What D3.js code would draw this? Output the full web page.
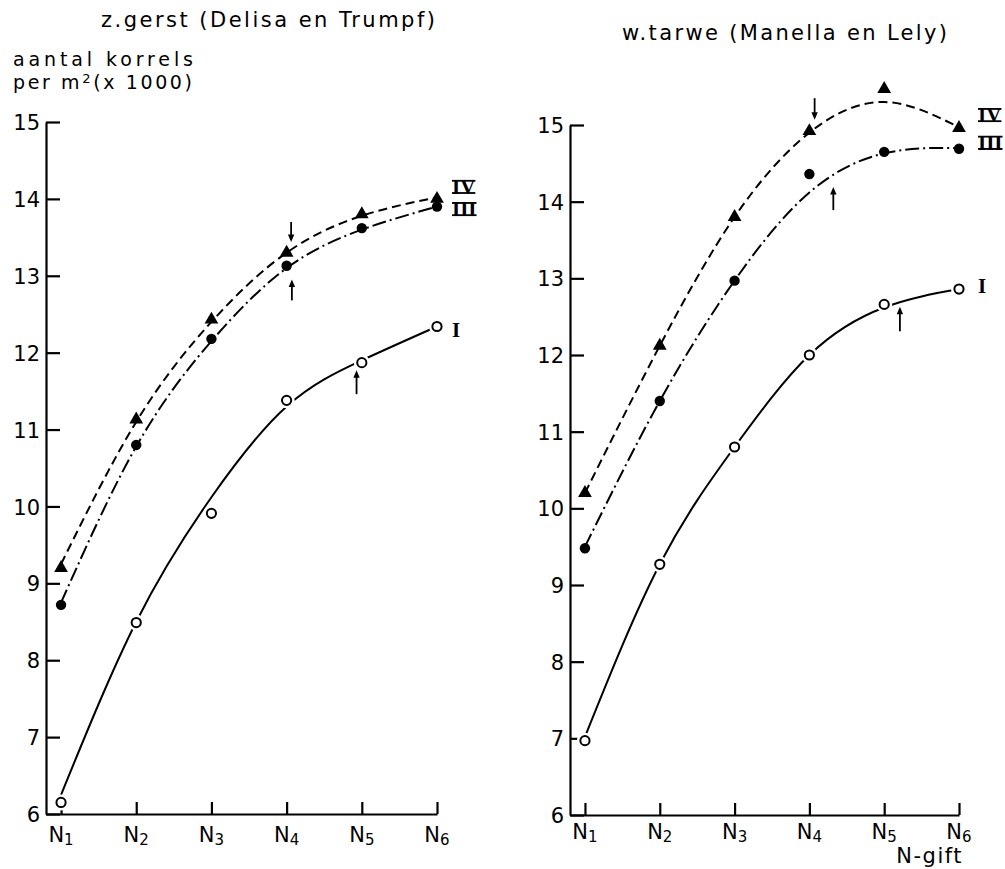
<!DOCTYPE html>
<html>
<head>
<meta charset="utf-8">
<script src="https://cdn.jsdelivr.net/npm/d3@7"></script>
<style>
  html, body { margin: 0; padding: 0; background: #fff; }
  svg { display: block; }
  .axis path, .axis line { stroke: #000; stroke-width: 2.2; fill: none; }
  .axis text { font-family: "DejaVu Sans", sans-serif; font-size: 21px; fill: #000; }
  .lbl { font-family: "DejaVu Sans", sans-serif; font-size: 21px; fill: #000; }
  .ylbl { font-family: "DejaVu Sans", sans-serif; font-size: 19px; fill: #000; }
  .roman { font-family: "Liberation Serif", serif; font-weight: bold; font-size: 21px; fill: #000; }
</style>
</head>
<body>
<svg id="chart" width="1005" height="869"></svg>
<script>
// N-levels (x axis) and y ticks
const nLevels = ["1", "2", "3", "4", "5", "6"];
const yTicks = [6, 7, 8, 9, 10, 11, 12, 13, 14, 15];

// Zomergerst: observed number of kernels per m2 (x 1000)
const gerstIV  = [9.2, 11.13, 12.43, 13.3, 13.8, 14.0];
const gerstIII = [8.72, 10.8, 12.18, 13.13, 13.62, 13.9];
const gerstI   = [6.15, 8.49, 9.91, 11.38, 11.87, 12.34];
// Zomergerst: fitted response curves
const gerstFitIV  = [9.25, 11.1, 12.4, 13.3, 13.78, 14.02];
const gerstFitIII = [8.75, 10.78, 12.15, 13.1, 13.6, 13.9];
const gerstFitI   = [6.25, 8.5, 10.12, 11.3, 11.9, 12.34];

// Wintertarwe: observed
const tarweIV  = [10.2, 12.12, 13.8, 14.92, 15.47, 14.96];
const tarweIII = [9.48, 11.4, 12.97, 14.36, 14.65, 14.69];
const tarweI   = [6.97, 9.27, 10.8, 12.0, 12.66, 12.86];
// Wintertarwe: fitted response curves
const tarweFitIV  = [10.2, 12.12, 13.8, 14.9, 15.3, 14.97];
const tarweFitIII = [9.5, 11.4, 12.97, 14.12, 14.63, 14.7];
const tarweFitI   = [7.02, 9.27, 10.8, 12.0, 12.62, 12.86];

// Optimum markers: [x in N units (0 = N1), tail value, tip value]
const gerstArrows = [[3.06, 13.70, 13.44], [3.07, 12.68, 12.95], [3.93, 11.46, 11.77]];
const tarweArrows = [[3.07, 15.35, 15.07], [3.32, 13.89, 14.19], [4.21, 12.31, 12.63]];

const series = [
  { key: "IV",  marker: "triangle", dash: "9,5" },
  { key: "III", marker: "dot",      dash: "14,4,2,4" },
  { key: "I",   marker: "circle",   dash: null }
];

const panels = [
  {
    title: "z.gerst (Delisa en Trumpf)", titleX: 101, titleW: 334, titleY: 27,
    xRange: [46, 437], yRange: [814, 122],
    obs: { IV: gerstIV, III: gerstIII, I: gerstI },
    fit: { IV: gerstFitIV, III: gerstFitIII, I: gerstFitI },
    arrows: gerstArrows,
    nBase: 28, labelDx: 15, labelDy: { IV: -12, III: 2.5, I: 3 },
    yTitle: true, xTitle: false
  },
  {
    title: "w.tarwe (Manella en Lely)", titleX: 622, titleW: 325, titleY: 40,
    xRange: [570, 959], yRange: [815, 125],
    obs: { IV: tarweIV, III: tarweIII, I: tarweI },
    fit: { IV: tarweFitIV, III: tarweFitIII, I: tarweFitI },
    arrows: tarweArrows,
    nBase: 24, labelDx: 19, labelDy: { IV: -13, III: -6, I: -3.5 },
    yTitle: false, xTitle: true
  }
];

const svg = d3.select("#chart");

// stretch a text element to a given width using letter spacing
function fitWidth(sel, target) {
  const node = sel.node();
  const len = node.getComputedTextLength();
  const n = node.textContent.length;
  if (n > 1) sel.style("letter-spacing", ((target - len) / (n - 1)) + "px");
}

panels.forEach(p => {
  const x = d3.scaleLinear().domain([-0.2, 5]).range(p.xRange);
  const y = d3.scaleLinear().domain([6, 15]).range(p.yRange);
  const g = svg.append("g");

  // title
  const t = g.append("text").attr("class", "lbl")
    .attr("x", p.titleX).attr("y", p.titleY).text(p.title);
  fitWidth(t, p.titleW);

  // y axis
  const ya = g.append("g").attr("class", "axis")
    .attr("transform", `translate(${p.xRange[0]},0)`)
    .call(d3.axisLeft(y).tickValues(yTicks).tickSize(-14).tickSizeOuter(0).tickPadding(6));
  ya.selectAll("text").attr("dy", "0.36em");

  // x axis
  g.append("g").attr("class", "axis")
    .attr("transform", `translate(0,${p.yRange[0]})`)
    .call(d3.axisBottom(x).tickValues(d3.range(nLevels.length)).tickSize(-12).tickSizeOuter(0).tickFormat(""));

  // N labels with subscript
  nLevels.forEach((n, i) => {
    const tx = g.append("text").attr("class", "lbl")
      .attr("x", x(i)).attr("y", p.yRange[0] + p.nBase).attr("text-anchor", "middle");
    tx.append("tspan").text("N");
    tx.append("tspan").attr("dy", 3).style("font-size", "15px").text(n);
  });

  if (p.yTitle) {
    const a = g.append("text").attr("class", "ylbl").attr("x", 13).attr("y", 66).text("aantal korrels");
    fitWidth(a, 180);
    const b = g.append("text").attr("class", "ylbl").attr("x", 13).attr("y", 88.5);
    b.append("tspan").text("per m");
    b.append("tspan").attr("dy", -6).style("font-size", "13px").text("2");
    b.append("tspan").attr("dy", 6).text("(x 1000)");
    fitWidth(b, 179);
  }
  if (p.xTitle) {
    g.append("text").attr("class", "lbl")
      .attr("x", p.xRange[1] + 4).attr("y", p.yRange[0] + 48)
      .attr("text-anchor", "end").style("letter-spacing", "1.5px").text("N-gift");
  }

  // fitted curves
  const line = d3.line().x((d, i) => x(i)).y(d => y(d)).curve(d3.curveNatural);
  series.forEach(s => {
    g.append("path").attr("d", line(p.fit[s.key]))
      .attr("fill", "none").attr("stroke", "#000").attr("stroke-width", 2)
      .attr("stroke-dasharray", s.dash);
  });

  // observed points
  series.forEach(s => {
    const pts = g.append("g").selectAll("g").data(p.obs[s.key]).join("g")
      .attr("transform", (d, i) => `translate(${x(i)},${y(d)})`);
    if (s.marker === "triangle") {
      pts.append("path").attr("d", d3.symbol(d3.symbolTriangle).size(82)).attr("fill", "#000");
    } else if (s.marker === "dot") {
      pts.append("circle").attr("r", 5.2).attr("fill", "#000");
    } else {
      pts.append("circle").attr("r", 8).attr("fill", "#fff");
      pts.append("circle").attr("r", 4.6).attr("fill", "#fff").attr("stroke", "#000").attr("stroke-width", 2);
    }
  });

  // series labels (roman numerals with bars)
  series.forEach(s => {
    const vals = p.obs[s.key];
    const cx = x(vals.length - 1) + p.labelDx;
    const cy = y(vals[vals.length - 1]) + p.labelDy[s.key];
    const base = cy + 7;
    const tx = g.append("text").attr("class", "roman").attr("x", cx).attr("y", base).text(s.key);
    if (s.key !== "I") {
      const w = tx.node().getComputedTextLength();
      [base - 14, base - 1.8].forEach(by => {
        g.append("rect").attr("x", cx).attr("y", by).attr("width", w).attr("height", 1.8).attr("fill", "#000");
      });
    }
  });

  // optimum arrows
  p.arrows.forEach(([ax, tail, tip]) => {
    const px = x(ax), y0 = y(tail), y1 = y(tip);
    const dir = Math.sign(y1 - y0);
    g.append("line").attr("x1", px).attr("x2", px).attr("y1", y0).attr("y2", y1 - dir * 4)
      .attr("stroke", "#000").attr("stroke-width", 1.8);
    g.append("path")
      .attr("d", `M${px - 3.2},${y1 - dir * 7.5}L${px + 3.2},${y1 - dir * 7.5}L${px},${y1}Z`)
      .attr("fill", "#000");
  });
});
</script>
</body>
</html>
